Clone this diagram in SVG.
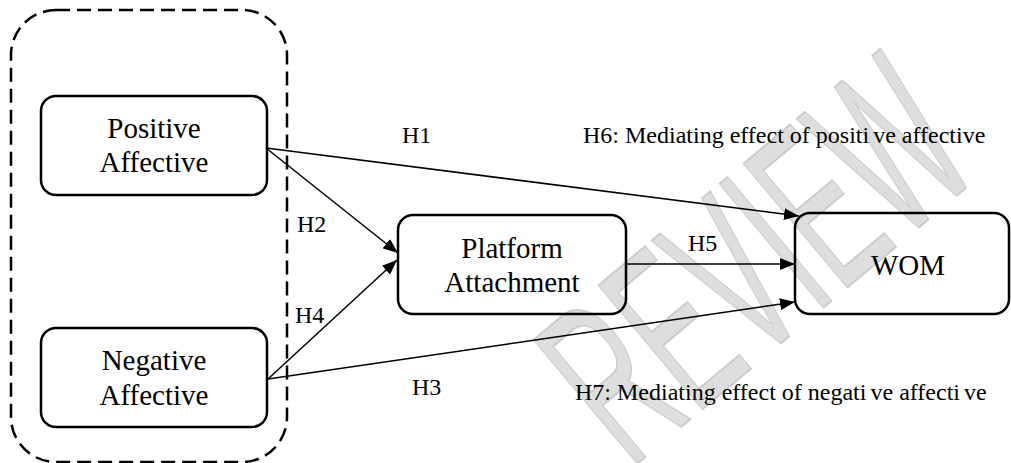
<svg xmlns="http://www.w3.org/2000/svg" width="1011" height="463" viewBox="0 0 1011 463">
<style>
.box{fill:none;stroke:#000;stroke-width:2.5}
.node{font-family:"Liberation Serif","Times New Roman",serif;font-size:29px;fill:#000;text-anchor:middle}
.lbl{font-family:"Liberation Serif","Times New Roman",serif;font-size:24px;fill:#000}
.edge{stroke:#000;stroke-width:1.5;fill:none}
.wm{font-family:"Liberation Sans",Arial,sans-serif;font-size:235px;fill:#dedede;stroke:#cccccc;stroke-width:2;stroke-linejoin:round}
</style>
<defs>
<marker id="arr" markerUnits="userSpaceOnUse" markerWidth="16" markerHeight="12" refX="15" refY="6" orient="auto">
<path d="M0,0 L15,6 L0,12 z" fill="#000"/>
</marker>
</defs>
<rect width="1011" height="463" fill="#fff"/>
<g id="watermark" transform="translate(985,172) rotate(-40) scale(0.5,1)">
<text class="wm" x="0" y="0" text-anchor="end">REVIEW</text>
</g>
<g id="group-affective">
<rect x="11" y="10" width="276" height="452" rx="45" fill="none" stroke="#000" stroke-width="2.5" stroke-dasharray="14 7"/>
</g>
<g id="connectors">
<line class="edge" x1="266" y1="148" x2="799" y2="216" marker-end="url(#arr)"/>
<line class="edge" x1="266" y1="148" x2="398" y2="253" marker-end="url(#arr)"/>
<line class="edge" x1="268" y1="379" x2="397" y2="260" stroke-width="1" marker-end="url(#arr)"/>
<line class="edge" x1="268" y1="379" x2="795" y2="302" marker-end="url(#arr)"/>
<line class="edge" x1="626" y1="264" x2="795" y2="264" marker-end="url(#arr)"/>
</g>
<g id="positive-affective">
<rect class="box" x="41" y="96" width="226" height="99" rx="15"/>
<text class="node" x="154" y="138">Positive</text>
<text class="node" x="154" y="172">Affective</text>
</g>
<g id="negative-affective">
<rect class="box" x="41" y="328" width="226" height="99" rx="15"/>
<text class="node" x="154" y="370">Negative</text>
<text class="node" x="154" y="405">Affective</text>
</g>
<g id="platform-attachment">
<rect class="box" x="398" y="215" width="228" height="99" rx="15"/>
<text class="node" x="512" y="258">Platform</text>
<text class="node" x="512" y="292">Attachment</text>
</g>
<g id="wom">
<rect class="box" x="795" y="213" width="214" height="101" rx="15"/>
<text class="node" x="908" y="275">WOM</text>
</g>
<g id="labels">
<text class="lbl" x="402" y="143">H1</text>
<text class="lbl" x="297" y="232">H2</text>
<text class="lbl" x="295" y="323">H4</text>
<text class="lbl" x="688" y="251">H5</text>
<text class="lbl" x="412" y="395">H3</text>
<text class="lbl" x="583" y="143">H6: Mediating effect of positi<tspan dx="4">ve</tspan> affective</text>
<text class="lbl" x="575" y="400">H7: Mediating effect of negati<tspan dx="4">ve</tspan> affecti<tspan dx="4">ve</tspan></text>
</g>
</svg>
